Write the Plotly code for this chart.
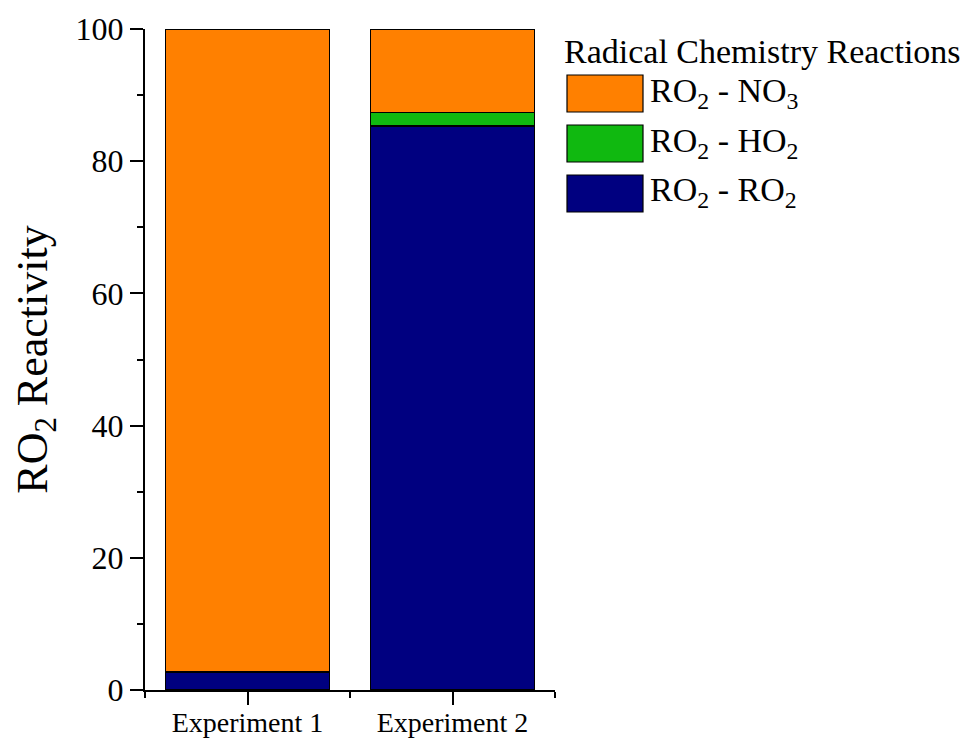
import plotly.graph_objects as go

categories = ["Experiment 1", "Experiment 2"]
ro2_ro2 = [2.7, 85.3]
ro2_ho2 = [0.0, 2.1]
ro2_no3 = [97.3, 12.6]
series_names = ["RO<sub>2</sub> - RO<sub>2</sub>", "RO<sub>2</sub> - HO<sub>2</sub>", "RO<sub>2</sub> - NO<sub>3</sub>"]
series_values = [ro2_ro2, ro2_ho2, ro2_no3]
colors = ["#000080", "#10B910", "#FF8000"]
y_ticks = [0, 20, 40, 60, 80, 100]
legend_title = "Radical Chemistry Reactions"

FONT = "Liberation Serif"
xpos = list(range(len(categories)))

fig = go.Figure()
for name, vals, col in zip(series_names, series_values, colors):
    fig.add_trace(go.Bar(
        x=xpos, y=vals, name=name, width=0.8,
        marker=dict(color=col, line=dict(color="black", width=1.5)),
        showlegend=False,
    ))

# custom legend (large swatches like the reference); positions in plot-area fractions
PX0, PW, PY1, PH = 145, 410, 690, 661
def px(x):
    return (x - PX0) / PW
def py(y):
    return (PY1 - y) / PH

row_tops = [75, 125, 175]
sw_h = 37
legend_order = [2, 1, 0]
for row, idx in enumerate(legend_order):
    top = row_tops[row]
    fig.add_shape(type="rect", xref="paper", yref="paper",
                  x0=px(567), x1=px(643), y0=py(top + sw_h), y1=py(top),
                  fillcolor=colors[idx], line=dict(color="black", width=1.2))
    fig.add_annotation(xref="paper", yref="paper",
                       x=px(648), y=py(top + sw_h / 2 - 1),
                       xanchor="left", yanchor="middle", showarrow=False,
                       text=series_names[idx], font=dict(family=FONT, size=34, color="black"))
fig.add_annotation(xref="paper", yref="paper",
                   x=px(562), y=py(51),
                   xanchor="left", yanchor="middle", showarrow=False,
                   text=legend_title, font=dict(family=FONT, size=34, color="black"))

# page body has an 8px margin: compensate so the plot sits where the reference has it
fig.update_layout(
    barmode="stack",
    width=965, height=732,
    margin=dict(l=137, r=418, t=21, b=50, autoexpand=False),
    plot_bgcolor="white", paper_bgcolor="white",
    font=dict(family=FONT, color="black"),
)
fig.update_xaxes(
    range=[-0.5, 1.5], tickvals=xpos, ticktext=categories,
    showgrid=False, zeroline=False, automargin=False,
    showline=True, linecolor="black", linewidth=2,
    ticks="outside", ticklen=13, tickwidth=2, tickcolor="black",
    ticklabelstandoff=-7,
    tickfont=dict(family=FONT, size=28, color="black"),
    minor=dict(tickvals=[-0.5, 0.5, 1.5], ticks="outside", ticklen=6, tickwidth=2, tickcolor="black"),
)
fig.update_yaxes(
    range=[0, 100], tickvals=y_ticks,
    showgrid=False, zeroline=False, automargin=False,
    showline=True, linecolor="black", linewidth=2,
    ticks="outside", ticklen=13, tickwidth=2, tickcolor="black",
    tickfont=dict(family=FONT, size=32, color="black"),
    minor=dict(dtick=10, ticks="outside", ticklen=6, tickwidth=2, tickcolor="black"),
    title=dict(text="RO<sub>2</sub> Reactivity", font=dict(family=FONT, size=44, color="black"), standoff=14),
)

fig.write_html("out.html")
